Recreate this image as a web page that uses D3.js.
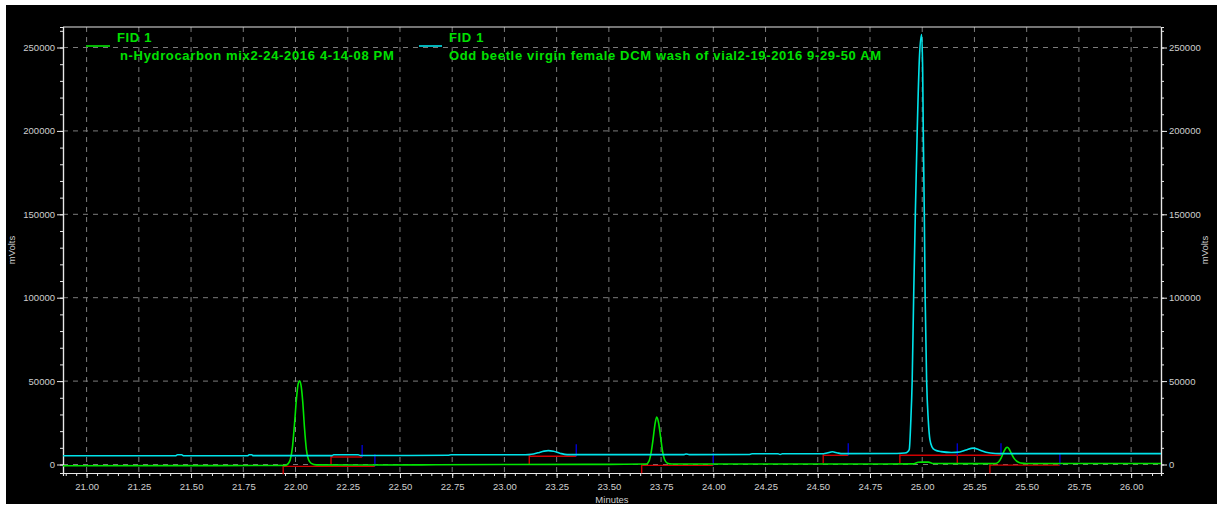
<!DOCTYPE html>
<html>
<head>
<meta charset="utf-8">
<script src="https://cdn.jsdelivr.net/npm/d3@7"></script>
<style>
  html, body { margin: 0; padding: 0; background: #ffffff; }
  svg { display: block; }
  text { font-family: "Liberation Sans", Arial, sans-serif; }
</style>
</head>
<body>
<script>
// ---- Data: chromatogram traces (retention time in minutes, detector signal in mV) ----
const hydrocarbonTrace = [
  [20.887, -800], [21.50, -700], [21.90, -600], [21.95, -500], [21.965, 500],
  [21.975, 3000], [21.985, 10000], [21.995, 24000], [22.005, 40000], [22.013, 48500],
  [22.020, 50200], [22.027, 47000], [22.035, 37000], [22.043, 22000], [22.052, 9000],
  [22.062, 3000], [22.075, 700], [22.10, -200], [22.30, -300], [22.60, -200],
  [23.00, 0], [23.50, 100], [23.68, 300], [23.692, 2000], [23.702, 7000],
  [23.712, 15500], [23.720, 23500], [23.729, 28500], [23.738, 25000], [23.747, 17000],
  [23.757, 8000], [23.767, 2800], [23.780, 800], [23.80, 300], [24.20, 300],
  [24.60, 300], [24.96, 400], [24.98, 1300], [25.00, 1400], [25.03, 1400],
  [25.05, 600], [25.20, 500], [25.35, 600], [25.365, 1500], [25.378, 4000],
  [25.390, 7500], [25.400, 9800], [25.407, 10300], [25.416, 9300], [25.426, 6800],
  [25.438, 4000], [25.452, 2000], [25.470, 900], [25.50, 600], [26.143, 600]
];

const beetleTrace = [
  [20.887, 5200], [21.425, 5200], [21.435, 5800], [21.455, 5800], [21.465, 5200],
  [21.770, 5200], [21.778, 5800], [21.790, 5800], [21.798, 5300], [22.175, 5300],
  [22.182, 5800], [22.300, 5800], [22.310, 5400], [22.730, 5500], [22.745, 5800],
  [23.100, 5800], [23.130, 6100], [23.160, 7000], [23.190, 8000], [23.210, 8300],
  [23.235, 7900], [23.265, 6800], [23.300, 5900], [23.860, 5900], [23.870, 6300],
  [23.885, 5900], [24.170, 6000], [24.185, 6400], [24.310, 6400], [24.320, 6000],
  [24.330, 6400], [24.520, 6400], [24.545, 6900], [24.570, 7600], [24.595, 6900],
  [24.620, 6500], [24.880, 6600], [24.917, 6900], [24.930, 7600], [24.938, 9000],
  [24.945, 25000], [24.952, 50700], [24.959, 100500], [24.967, 150000], [24.976, 200000],
  [24.987, 245000], [24.997, 257800], [25.002, 238000], [25.005, 200000], [25.010, 150000],
  [25.014, 100500], [25.021, 50700], [25.029, 26600], [25.037, 14700], [25.048, 10300],
  [25.061, 8700], [25.090, 7700], [25.140, 7200], [25.180, 7500], [25.210, 8700],
  [25.244, 9800], [25.275, 8700], [25.305, 7300], [25.350, 6600], [25.400, 6500],
  [26.143, 6500]
];

// Integration windows: start/end time and baseline level (mV)
const hydrocarbonPeaks = [
  { start: 21.941, end: 22.380, level: -500 },
  { start: 23.657, end: 24.000, level: 100 },
  { start: 25.324, end: 25.659, level: 200 }
];
const beetlePeaks = [
  { start: 22.170, end: 22.319, level: 5100 },
  { start: 23.119, end: 23.344, level: 5500 },
  { start: 24.526, end: 24.646, level: 6100 },
  { start: 24.893, end: 25.168, level: 6100 },
  { start: 25.168, end: 25.377, level: 6100 }
];

// Axis ticks
const xMajorTicks = [21.00, 21.25, 21.50, 21.75, 22.00, 22.25, 22.50, 22.75, 23.00, 23.25,
  23.50, 23.75, 24.00, 24.25, 24.50, 24.75, 25.00, 25.25, 25.50, 25.75, 26.00];
const yMajorTicks = [0, 50000, 100000, 150000, 200000, 250000];

// Legend entries
const legendHeaders = ["FID 1", "FID 1"];
const legendNames = [
  "n-Hydrocarbon mix2-24-2016 4-14-08 PM",
  "Odd beetle virgin female DCM wash of vial2-19-2016 9-29-50 AM"
];

// ---- Layout ----
const W = 1217, H = 505;
const plot = { left: 63, right: 1161, top: 27, bottom: 473 };
const COLORS = {
  hydrocarbon: "#00e600",
  beetle: "#00e3ea",
  legendText: "#00e000",
  baseline: "#d00000",
  marker: "#0000d0",
  grid: "#7c7c7c",
  axis: "#e8e8e8",
  label: "#cfcfcf"
};

const svg = d3.select("body").append("svg")
  .attr("width", W).attr("height", H);

// black panel inside a thin white frame
svg.append("rect").attr("x", 6).attr("y", 5)
  .attr("width", W - 6).attr("height", H - 6)
  .attr("fill", "#000000");

const x = d3.scaleLinear().domain([20.887, 26.143]).range([plot.left, plot.right]);
const y = d3.scaleLinear().domain([-5100, 262300]).range([plot.bottom, plot.top]);

// ---- Grid ----
const grid = svg.append("g");
grid.selectAll("line.vg").data(xMajorTicks).join("line")
  .attr("x1", d => x(d)).attr("x2", d => x(d))
  .attr("y1", plot.top).attr("y2", plot.bottom)
  .attr("stroke", COLORS.grid).attr("stroke-width", 1)
  .attr("stroke-dasharray", "5,5");
grid.selectAll("line.hg").data(yMajorTicks).join("line")
  .attr("x1", plot.left).attr("x2", plot.right)
  .attr("y1", d => y(d)).attr("y2", d => y(d))
  .attr("stroke", COLORS.grid).attr("stroke-width", 1)
  .attr("stroke-dasharray", "5,5");

// ---- Axes ----
function styleAxis(g) {
  g.select(".domain").attr("stroke", COLORS.axis).attr("stroke-width", 1.2);
  g.selectAll(".tick line").attr("stroke", COLORS.axis);
  g.selectAll(".tick text").attr("fill", COLORS.label)
    .style("font-size", "9.5px")
    .style("font-family", "'Liberation Sans', Arial, sans-serif");
}

const xMinor = d3.range(20.90, 26.15, 0.05);
const yMinor = d3.range(0, 262001, 10000);

// bottom axis
svg.append("g").attr("transform", `translate(0,${plot.bottom})`)
  .call(d3.axisBottom(x).tickValues(xMinor).tickSize(3).tickFormat(""))
  .call(styleAxis);
svg.append("g").attr("transform", `translate(0,${plot.bottom})`)
  .call(d3.axisBottom(x).tickValues(xMajorTicks).tickSize(5).tickSizeOuter(0)
    .tickPadding(5).tickFormat(d3.format(".2f")))
  .call(styleAxis);

// left axis
svg.append("g").attr("transform", `translate(${plot.left},0)`)
  .call(d3.axisLeft(y).tickValues(yMinor).tickSize(3).tickFormat(""))
  .call(styleAxis);
svg.append("g").attr("transform", `translate(${plot.left},0)`)
  .call(d3.axisLeft(y).tickValues(yMajorTicks).tickSize(6).tickSizeOuter(0)
    .tickPadding(2).tickFormat(d3.format("d")))
  .call(styleAxis);

// right axis
svg.append("g").attr("transform", `translate(${plot.right},0)`)
  .call(d3.axisRight(y).tickValues(yMinor).tickSize(3).tickFormat(""))
  .call(styleAxis);
svg.append("g").attr("transform", `translate(${plot.right},0)`)
  .call(d3.axisRight(y).tickValues(yMajorTicks).tickSize(6).tickSizeOuter(0)
    .tickPadding(2).tickFormat(d3.format("d")))
  .call(styleAxis);

// top frame line
svg.append("line")
  .attr("x1", plot.left).attr("x2", plot.right)
  .attr("y1", plot.top).attr("y2", plot.top)
  .attr("stroke", COLORS.axis).attr("stroke-width", 1.2);

// axis titles
const midY = (plot.top + plot.bottom) / 2;
svg.append("text").text("mVolts")
  .attr("transform", `translate(15,${midY}) rotate(-90)`)
  .attr("text-anchor", "middle").attr("fill", COLORS.label).style("font-size", "9.5px");
svg.append("text").text("mVolts")
  .attr("transform", `translate(1208,${midY}) rotate(-90)`)
  .attr("text-anchor", "middle").attr("fill", COLORS.label).style("font-size", "9.5px");
svg.append("text").text("Minutes")
  .attr("x", (plot.left + plot.right) / 2).attr("y", 503)
  .attr("text-anchor", "middle").attr("fill", COLORS.label).style("font-size", "9.5px");

// ---- Integration baselines and markers ----
const DROP = 9, TICK = 11;
function drawPeaks(events) {
  const g = svg.append("g");
  g.selectAll("line.base").data(events).join("line")
    .attr("x1", d => x(d.start)).attr("x2", d => x(d.end))
    .attr("y1", d => y(d.level) + 1).attr("y2", d => y(d.level) + 1)
    .attr("stroke", COLORS.baseline).attr("stroke-width", 1.4);
  g.selectAll("line.drop").data(events).join("line")
    .attr("x1", d => x(d.start)).attr("x2", d => x(d.start))
    .attr("y1", d => y(d.level)).attr("y2", d => y(d.level) + DROP)
    .attr("stroke", COLORS.baseline).attr("stroke-width", 1.4);
  g.selectAll("line.mark").data(events).join("line")
    .attr("x1", d => x(d.end)).attr("x2", d => x(d.end))
    .attr("y1", d => y(d.level) - TICK).attr("y2", d => y(d.level) + 1)
    .attr("stroke", COLORS.marker).attr("stroke-width", 1.4);
}
drawPeaks(hydrocarbonPeaks);
drawPeaks(beetlePeaks);

// ---- Traces ----
const line = d3.line()
  .x(d => x(d[0])).y(d => y(d[1]))
  .curve(d3.curveMonotoneX);

svg.append("path").datum(hydrocarbonTrace)
  .attr("d", line).attr("fill", "none")
  .attr("stroke", COLORS.hydrocarbon).attr("stroke-width", 1.6);
svg.append("path").datum(beetleTrace)
  .attr("d", line).attr("fill", "none")
  .attr("stroke", COLORS.beetle).attr("stroke-width", 1.6);

// ---- Legend ----
const legendPos = [
  { lx1: 86, lx2: 110, ly: 46, hx: 117, tx: 120 },
  { lx1: 419, lx2: 442, ly: 46, hx: 449, tx: 449 }
];
const legendColors = [COLORS.hydrocarbon, COLORS.beetle];
const legend = svg.append("g")
  .style("font-size", "13px").style("font-weight", "bold")
  .style("letter-spacing", "0.66px");
legendPos.forEach((p, i) => {
  legend.append("line")
    .attr("x1", p.lx1).attr("x2", p.lx2).attr("y1", p.ly).attr("y2", p.ly)
    .attr("stroke", legendColors[i]).attr("stroke-width", 1.6);
  legend.append("text").text(legendHeaders[i])
    .attr("x", p.hx).attr("y", 42)
    .attr("fill", COLORS.legendText);
  legend.append("text").text(legendNames[i])
    .attr("x", p.tx).attr("y", 59.5)
    .attr("fill", COLORS.legendText);
});
</script>
</body>
</html>
